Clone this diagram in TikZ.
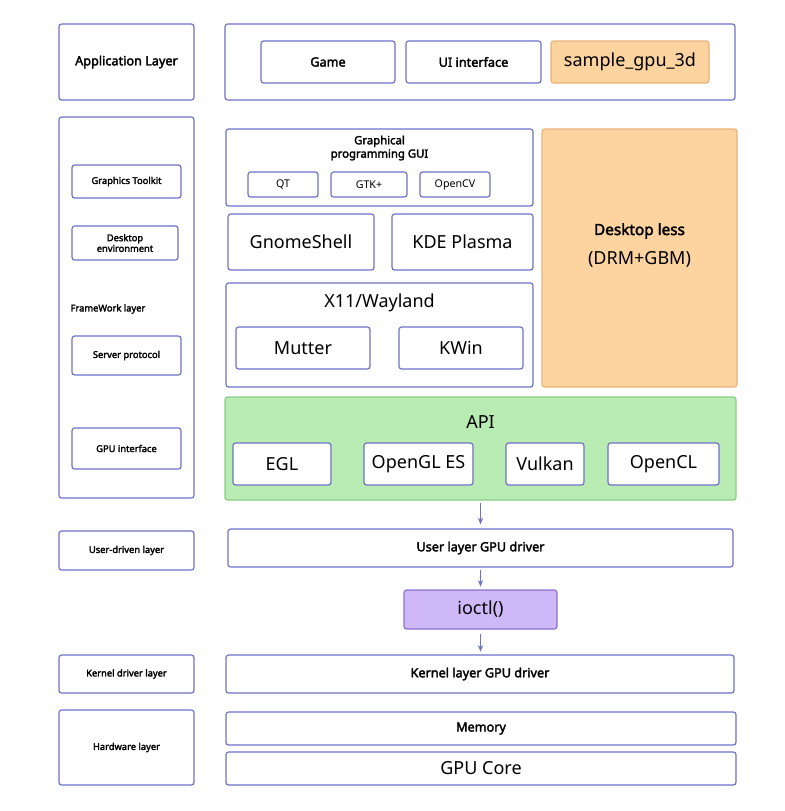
\documentclass[tikz,border=0pt]{standalone}
\usepackage{fontspec}
\setmainfont{Noto Sans}[AutoFakeBold=2.5]
\usetikzlibrary{arrows.meta}
\definecolor{edge}{HTML}{6E72C6}
\definecolor{orfill}{HTML}{FDD3A0}
\definecolor{ordraw}{HTML}{E9B47A}
\definecolor{grfill}{HTML}{B8ECB2}
\definecolor{grdraw}{HTML}{8CCB88}
\definecolor{pufill}{HTML}{CFB8F7}
\definecolor{pudraw}{HTML}{8C70D2}
\begin{document}
\begin{tikzpicture}[x=0.75pt,y=-0.75pt,
    box/.style 2 args={draw=edge, line width=0.9pt, rounded corners=2pt, fill=white,
      minimum width=#1*0.75pt, minimum height=#2*0.75pt, inner sep=0pt, align=center},
    small/.style={font=\fontsize{7}{8}\selectfont\bfseries},
    mid/.style={font=\fontsize{9.5}{11}\selectfont\bfseries},
    big/.style={font=\fontsize{13.5}{15}\selectfont},
    flow/.style={-{Stealth[length=5pt,width=4pt]}, draw=edge, line width=0.9pt}]
    \useasboundingbox (0,0) rectangle (785,811);

    % left column
    \node[box={135}{76}, mid] (applayer) at (126.5,62) {Application Layer};
    \node[box={135}{381}] (fwlayer) at (126.5,307.5) {};
    \node[box={109}{33}, small] (toolkit) at (126.5,181.5) {Graphics Toolkit};
    \node[box={106}{34}, small] (desktop) at (125,243) {Desktop\\environment};
    \node[small] (fwtext) at (108,309) {FrameWork layer};
    \node[box={109}{39}, small] (server) at (126.5,355.5) {Server protocol};
    \node[box={109}{41}, small] (gpuif) at (126.5,448.5) {GPU interface};
    \node[box={135}{39}, small] (userlayer) at (126.5,550.5) {User-driven layer};
    \node[box={135}{38}, small] (kernellayer) at (126.5,674) {Kernel driver layer};
    \node[box={135}{75}, small] (hwlayer) at (126.5,747.5) {Hardware layer};

    % application
    \node[box={510}{76}] (app) at (480,62) {};
    \node[box={134}{42}, mid] (game) at (328,62) {Game};
    \node[box={135}{42}, mid] (ui) at (473.5,62) {UI interface};
    \node[box={158}{42}, big, fill=orfill, draw=ordraw] (sample) at (630,62) {sample\_gpu\_3d};

    % framework
    \node[box={307}{77}] (gui) at (379.5,167.5) {};
    \node[font=\fontsize{8.5}{10}\selectfont\bfseries, align=center] (guitext) at (379.5,148) {Graphical\\programming GUI};
    \node[box={70}{25}, font=\fontsize{8}{9}\selectfont] (qt) at (283,184.5) {QT};
    \node[box={76}{25}, font=\fontsize{8}{9}\selectfont] (gtk) at (369,184.5) {GTK+};
    \node[box={70}{25}, font=\fontsize{8}{9}\selectfont] (opencv) at (455,184.5) {OpenCV};
    \node[box={146}{56}, big] (gnome) at (301,242) {GnomeShell};
    \node[box={141}{56}, big] (kde) at (462.5,242) {KDE Plasma};
    \node[box={307}{104}] (x11) at (379.5,335) {};
    \node[big] (x11text) at (379.5,303) {X11/Wayland};
    \node[box={134}{42}, big] (mutter) at (303,348) {Mutter};
    \node[box={124}{42}, big] (kwin) at (461,348) {KWin};
    \node[box={195}{258}, fill=orfill, draw=ordraw] (dless) at (639.5,258) {};
    \node[font=\fontsize{11.5}{13}\selectfont\bfseries] (dlesstext) at (639.5,231) {Desktop less};
    \node[big] (drm) at (639.5,259) {(DRM+GBM)};

    % api
    \node[box={511}{103}, fill=grfill, draw=grdraw] (api) at (480.5,448.5) {};
    \node[big] (apitext) at (480.5,422) {API};
    \node[box={98}{42}, big] (egl) at (282,464) {EGL};
    \node[box={109}{42}, big] (gles) at (418.5,464) {OpenGL ES};
    \node[box={78}{42}, big] (vulkan) at (545,464) {Vulkan};
    \node[box={111}{42}, big] (opencl) at (663.5,464) {OpenCL};

    % drivers and hardware
    \node[box={505}{38}, mid] (udriver) at (480.5,548) {User layer GPU driver};
    \node[box={153}{39}, big, fill=pufill, draw=pudraw] (ioctl) at (480.5,609.5) {ioctl()};
    \node[box={508}{38}, mid] (kdriver) at (480,674) {Kernel layer GPU driver};
    \node[box={510}{33}, mid] (memory) at (481,728.5) {Memory};
    \node[box={510}{33}, big] (core) at (481,768.5) {GPU Core};

    \draw[flow, shorten <=2pt, shorten >=3pt] (api.south -| udriver.north) -- (udriver.north);
    \draw[flow, shorten <=2pt, shorten >=2pt] (udriver.south) -- (ioctl.north);
    \draw[flow, shorten <=3pt, shorten >=2pt] (ioctl.south) -- (ioctl.south |- kdriver.north);
\end{tikzpicture}
\end{document}
